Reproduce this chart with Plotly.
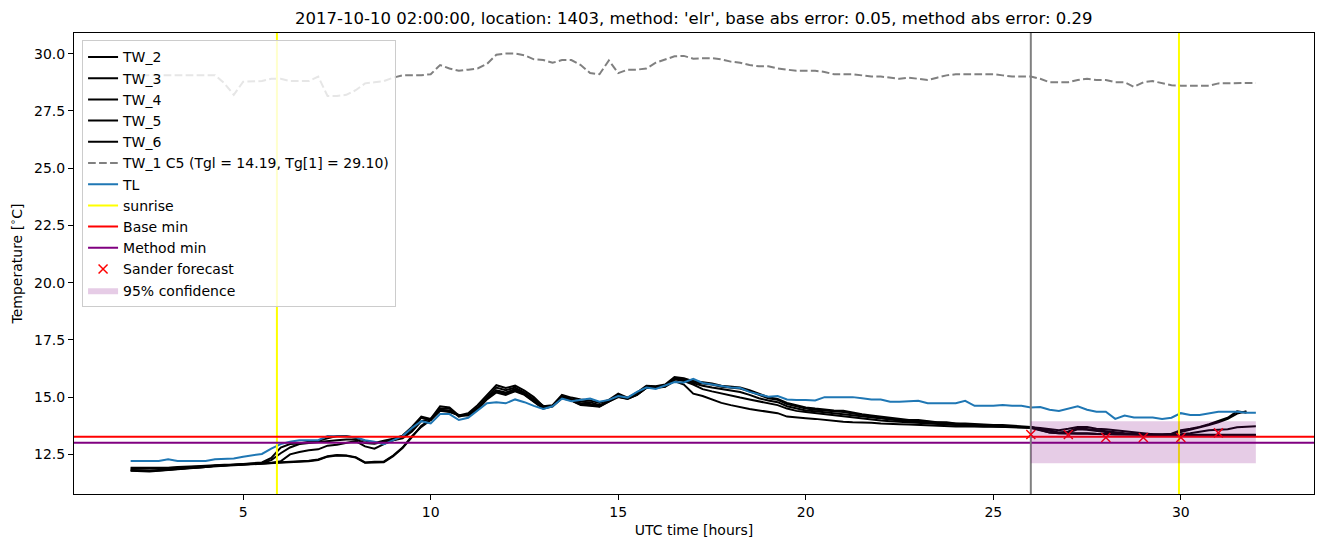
import numpy as np
import plotly.graph_objects as go

# time grid (hours UTC), 0.25 h steps from 2 to 32
HOURS = list(np.round(np.arange(2.0, 32.001, 0.25), 2))

TL = [12.21, 12.21, 12.21, 12.21, 12.29, 12.21, 12.21, 12.21, 12.21, 12.29, 12.29, 12.32, 12.4, 12.45, 12.52,
      12.75, 12.95, 13.05, 13.12, 13.12, 13.12, 13.3, 13.3, 13.28, 13.25, 13.12, 13.05, 12.94, 13.12, 13.3, 13.65,
      13.95, 13.85, 14.26, 14.26, 14.0, 14.1, 14.4, 14.73, 14.78, 14.73, 14.9, 14.78, 14.62, 14.48, 14.6, 14.94, 14.82, 14.88, 14.94, 14.8,
      14.88, 15.05, 14.98, 15.23, 15.42, 15.36, 15.5, 15.66, 15.64, 15.8,
      15.62, 15.55, 15.46, 15.42, 15.4, 15.23, 15.12, 15.02, 15.05, 14.9, 14.87, 14.88, 14.85, 15.0, 15.0, 15.0, 15.0, 14.95, 14.9, 14.9,
      14.8, 14.8, 14.83, 14.84, 14.73, 14.73, 14.73, 14.73, 14.84, 14.62, 14.62, 14.62, 14.66, 14.62, 14.62, 14.55, 14.57, 14.45, 14.4, 14.5,
      14.6, 14.45, 14.36, 14.36, 14.05, 14.2, 14.11, 14.11, 14.11, 14.05,
      14.1, 14.3, 14.22, 14.22, 14.3, 14.36, 14.36, 14.36, 14.32, 14.32]

TW_1 = [29.06, 29.06, 29.06, 29.06, 29.06, 29.06, 29.06, 29.06, 29.06, 29.06, 28.7, 28.2, 28.77, 28.77, 28.8,
        28.9, 28.9, 28.8, 28.8, 28.8, 29.0, 28.15, 28.15, 28.2, 28.4, 28.7, 28.75, 28.8, 28.95, 29.05, 29.06,
        29.06, 29.1, 29.5, 29.35, 29.25, 29.3, 29.35, 29.55, 29.95, 30.0, 30.0, 29.93, 29.75, 29.72, 29.6, 29.72, 29.72, 29.5, 29.15, 29.1,
        29.7, 29.15, 29.3, 29.3, 29.35, 29.6, 29.75, 29.88, 29.9, 29.78,
        29.8, 29.8, 29.75, 29.65, 29.6, 29.5, 29.45, 29.45, 29.35, 29.3, 29.25, 29.25, 29.25, 29.2, 29.1, 29.1, 29.1, 29.05, 29.0, 29.0,
        28.95, 28.9, 28.95, 28.9, 28.85, 28.95, 29.05, 29.1, 29.1, 29.1, 29.1, 29.1, 29.05, 29.0, 29.0, 29.0, 28.9, 28.75, 28.75, 28.75,
        28.85, 28.9, 28.85, 28.85, 28.75, 28.75, 28.55, 28.75, 28.8, 28.7,
        28.62, 28.6, 28.6, 28.6, 28.6, 28.7, 28.7, 28.72, 28.72, 28.72]

TW_2 = [11.92, 11.92, 11.9, 11.9, 11.92, 11.95, 11.95, 11.98, 12.0, 12.03, 12.05, 12.05, 12.08, 12.1, 12.15,
        12.35, 12.8, 12.95, 12.98, 13.05, 13.1, 13.2, 13.3, 13.3, 13.22, 13.1, 13.0, 13.1, 13.18, 13.32, 13.7,
        14.15, 14.05, 14.6, 14.55, 14.2, 14.3, 14.65, 15.1, 15.52, 15.4, 15.5, 15.28, 15.0, 14.6, 14.65, 15.1, 14.98, 14.9, 14.85, 14.75,
        14.88, 15.15, 14.98, 15.2, 15.5, 15.48, 15.55, 15.88, 15.82, 15.7,
        15.65, 15.6, 15.5, 15.45, 15.42, 15.3, 15.15, 15.0, 14.92, 14.75, 14.65, 14.55, 14.5, 14.45, 14.42, 14.4, 14.32, 14.25, 14.2, 14.15,
        14.1, 14.05, 14.0, 14.0, 13.95, 13.9, 13.9, 13.85, 13.85, 13.82, 13.8, 13.78, 13.78, 13.75, 13.72, 13.7, 13.6, 13.55, 13.45, 13.5,
        13.65, 13.6, 13.55, 13.5, 13.45, 13.42, 13.4, 13.38, 13.37, 13.37,
        13.4, 13.55, 13.62, 13.7, 13.82, 13.95, 14.1, 14.38, 14.32, None]

TW_3 = [11.88, 11.88, 11.88, 11.9, 11.9, 11.92, 11.95, 11.95, 11.98, 12.0, 12.02, 12.05, 12.08, 12.1, 12.12,
        12.25, 12.55, 12.8, 12.95, 13.0, 13.05, 13.1, 13.12, 13.15, 13.15, 13.0, 12.97, 13.05, 13.12, 13.25, 13.6,
        14.1, 14.0, 14.5, 14.5, 14.15, 14.25, 14.55, 15.0, 15.42, 15.3, 15.42, 15.2, 14.9, 14.62, 14.6, 15.05, 14.92, 14.8, 14.78, 14.65,
        14.82, 15.1, 14.95, 15.15, 15.45, 15.45, 15.5, 15.82, 15.78, 15.65,
        15.6, 15.55, 15.45, 15.42, 15.38, 15.25, 15.1, 14.95, 14.88, 14.7, 14.6, 14.5, 14.45, 14.42, 14.38, 14.35, 14.28, 14.22, 14.15, 14.1,
        14.05, 14.0, 13.98, 13.95, 13.92, 13.88, 13.85, 13.82, 13.8, 13.78, 13.78, 13.75, 13.75, 13.72, 13.7, 13.68, 13.62, 13.52, 13.45, 13.45,
        13.6, 13.58, 13.52, 13.48, 13.42, 13.4, 13.38, 13.37, 13.36, 13.36,
        13.38, 13.48, 13.58, 13.65, 13.78, 13.9, 14.05, 14.28, 14.38, None]

TW_4 = [11.82, 11.8, 11.8, 11.82, 11.85, 11.88, 11.9, 11.92, 11.95, 11.98, 12.0, 12.02, 12.05, 12.07, 12.1,
        12.12, 12.2, 12.5, 12.6, 12.68, 12.72, 12.88, 12.92, 13.0, 13.08, 12.85, 12.75, 12.95, 13.12, 13.2, 13.5,
        13.95, 14.05, 14.45, 14.42, 14.2, 14.22, 14.5, 14.95, 15.3, 15.2, 15.35, 15.15, 14.85, 14.55, 14.62, 15.0, 14.88, 14.72, 14.7, 14.6,
        14.85, 15.05, 14.95, 15.12, 15.42, 15.42, 15.48, 15.8, 15.72, 15.6,
        15.5, 15.42, 15.35, 15.3, 15.22, 15.1, 14.95, 14.85, 14.78, 14.6, 14.5, 14.42, 14.38, 14.35, 14.3, 14.25, 14.2, 14.15, 14.1, 14.05,
        14.0, 13.98, 13.95, 13.92, 13.9, 13.85, 13.82, 13.8, 13.78, 13.75, 13.75, 13.72, 13.72, 13.7, 13.7, 13.68, 13.65, 13.6, 13.55, 13.62,
        13.7, 13.7, 13.62, 13.6, 13.55, 13.5, 13.45, 13.4, 13.38, 13.37,
        13.36, 13.38, 13.42, 13.5, 13.55, 13.58, 13.6, 13.68, 13.72, 13.73]

TW_5 = [11.78, 11.75, 11.75, 11.78, 11.8, 11.85, 11.88, 11.9, 11.95, 12.0, 12.02, 12.03, 12.05, 12.08, 12.1,
        12.12, 12.15, 12.18, 12.2, 12.22, 12.28, 12.42, 12.47, 12.45, 12.38, 12.15, 12.18, 12.18, 12.45, 12.8, 13.3,
        13.7, 14.0, 14.4, 14.35, 14.22, 14.2, 14.45, 14.9, 15.2, 15.1, 15.25, 15.1, 14.8, 14.5, 14.6, 14.95, 14.85, 14.65, 14.62, 14.58,
        14.8, 15.0, 14.92, 15.1, 15.4, 15.4, 15.45, 15.7, 15.55, 15.15,
        15.05, 14.9, 14.75, 14.65, 14.55, 14.48, 14.42, 14.35, 14.3, 14.15, 14.1, 14.08, 14.05, 14.0, 13.95, 13.92, 13.9, 13.9, 13.88, 13.85,
        13.85, 13.82, 13.8, 13.78, 13.78, 13.75, 13.75, 13.72, 13.72, 13.72, 13.7, 13.7, 13.7, 13.7, 13.7, 13.68, 13.55, 13.45, 13.42, 13.4,
        13.4, 13.4, 13.38, 13.38, 13.37, 13.37, 13.36, 13.36, 13.36, 13.36,
        13.36, 13.36, 13.36, 13.36, 13.36, 13.36, 13.36, 13.36, 13.36, 13.36]

TW_6 = [11.8, 11.78, 11.78, 11.8, 11.82, 11.86, 11.9, 11.92, 11.95, 12.0, 12.02, 12.04, 12.06, 12.08, 12.1,
        12.1, 12.13, 12.16, 12.18, 12.2, 12.25, 12.4, 12.45, 12.44, 12.36, 12.13, 12.15, 12.16, 12.42, 12.78, 13.25,
        13.75, 14.02, 14.42, 14.38, 14.2, 14.22, 14.5, 14.95, 15.25, 15.15, 15.3, 15.12, 14.82, 14.52, 14.62, 14.98, 14.86, 14.68, 14.65, 14.6,
        14.82, 15.02, 14.93, 15.1, 15.4, 15.42, 15.46, 15.78, 15.7, 15.55,
        15.35, 15.25, 15.15, 15.05, 14.98, 14.9, 14.82, 14.75, 14.65, 14.5, 14.4, 14.35, 14.3, 14.25, 14.2, 14.15, 14.1, 14.05, 14.0, 13.98,
        13.95, 13.92, 13.9, 13.88, 13.85, 13.82, 13.8, 13.78, 13.75, 13.75, 13.72, 13.72, 13.7, 13.7, 13.68, 13.65, 13.55, 13.45, 13.42, 13.42,
        13.45, 13.42, 13.4, 13.4, 13.38, 13.38, 13.37, 13.36, 13.36, 13.36,
        13.35, 13.35, 13.35, 13.35, 13.35, 13.35, 13.35, 13.35, 13.35, 13.35]

TW_NAMES = ["TW_2", "TW_3", "TW_4", "TW_5", "TW_6"]
TW_SERIES = [TW_2, TW_3, TW_4, TW_5, TW_6]
TW_1_NAME = "TW_1 C5 (Tgl = 14.19, Tg[1] = 29.10)"

SUNRISE = [5.9, 29.95]
FORECAST_START = 26.0
BASE_MIN = 13.27
METHOD_MIN = 13.01

FC_HOURS = [26, 27, 28, 29, 30, 31]
FC_VALUES = [13.37, 13.37, 13.24, 13.24, 13.24, 13.44]

CONF_HOURS = [26.0, 32.0]
CONF_LOW = 12.11
CONF_HIGH = 13.95

X_RANGE = [0.49, 33.55]
Y_RANGE = [10.77, 30.9]

TITLE = "2017-10-10 02:00:00, location: 1403, method: 'elr', base abs error: 0.05, method abs error: 0.29"

for s in TW_SERIES + [TL, TW_1]:
    assert len(s) == len(HOURS), len(s)

FONT = "DejaVu Sans"
fig = go.Figure()

for name, vals in zip(TW_NAMES, TW_SERIES):
    fig.add_trace(go.Scatter(x=HOURS, y=vals, mode="lines", name=name,
                             line=dict(color="black", width=2)))

fig.add_trace(go.Scatter(x=HOURS, y=TW_1, mode="lines", name=TW_1_NAME,
                         line=dict(color="#808080", width=2, dash="7.7px,3.3px")))
fig.add_trace(go.Scatter(x=HOURS, y=TL, mode="lines", name="TL",
                         line=dict(color="#1f77b4", width=2)))

for i, sr in enumerate(SUNRISE):
    fig.add_trace(go.Scatter(x=[sr, sr], y=Y_RANGE, mode="lines", name="sunrise",
                             showlegend=(i == 0), line=dict(color="#ffff00", width=2)))

fig.add_trace(go.Scatter(x=X_RANGE, y=[BASE_MIN, BASE_MIN], mode="lines", name="Base min",
                         line=dict(color="#ff0000", width=2)))
fig.add_trace(go.Scatter(x=X_RANGE, y=[METHOD_MIN, METHOD_MIN], mode="lines", name="Method min",
                         line=dict(color="#800080", width=2)))
fig.add_trace(go.Scatter(x=[FORECAST_START, FORECAST_START], y=Y_RANGE, mode="lines",
                         showlegend=False, line=dict(color="#808080", width=2)))
fig.add_trace(go.Scatter(x=FC_HOURS, y=FC_VALUES, mode="markers", name="Sander forecast",
                         marker=dict(symbol="x-thin", size=9, color="#ff0000",
                                     line=dict(color="#ff0000", width=1.5))))
fig.add_trace(go.Scatter(x=[CONF_HOURS[0], CONF_HOURS[1], CONF_HOURS[1], CONF_HOURS[0], CONF_HOURS[0]],
                         y=[CONF_LOW, CONF_LOW, CONF_HIGH, CONF_HIGH, CONF_LOW],
                         mode="lines", fill="toself", fillcolor="rgba(128,0,128,0.2)",
                         line=dict(width=0, color="rgba(128,0,128,0.2)"), name="95% confidence"))

axis_common = dict(showgrid=False, zeroline=False, showline=True, linecolor="black", linewidth=1,
                   mirror=True, ticks="outside", ticklen=5, tickwidth=1, tickcolor="black",
                   tickfont=dict(family=FONT, size=14, color="black"))

fig.update_layout(
    width=1324, height=547,
    margin=dict(l=74, r=10, t=33, b=53),
    paper_bgcolor="white", plot_bgcolor="white",
    font=dict(family=FONT, size=14, color="black"),
    title=dict(text=TITLE, x=0.524, xanchor="center", y=0.967, yanchor="middle",
               font=dict(family=FONT, size=16.5, color="black")),
    xaxis=dict(range=X_RANGE, tickvals=[5, 10, 15, 20, 25, 30],
               title=dict(text="UTC time [hours]", standoff=6, font=dict(family=FONT, size=14)),
               **axis_common),
    yaxis=dict(range=Y_RANGE, tickvals=[12.5, 15, 17.5, 20, 22.5, 25, 27.5, 30], tickformat=".1f",
               title=dict(text="Temperature [<sup>∘</sup>C]", standoff=8, font=dict(family=FONT, size=14)),
               **axis_common),
    legend=dict(x=0.0065, y=0.984, xanchor="left", yanchor="top",
                bgcolor="rgba(255,255,255,0.8)", bordercolor="#cccccc", borderwidth=1,
                font=dict(family=FONT, size=14, color="black"), tracegroupgap=0),
    showlegend=True,
)

fig.write_html("out.html")
